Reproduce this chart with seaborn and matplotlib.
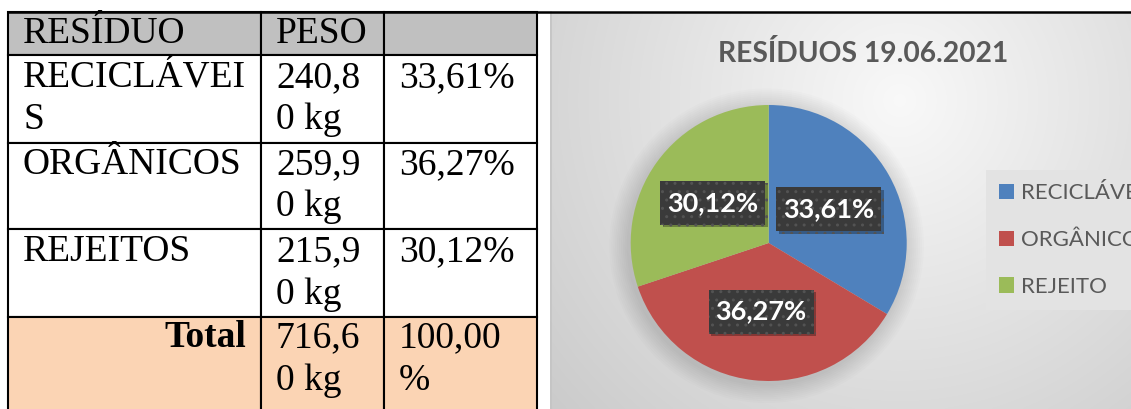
import numpy as np
import matplotlib
matplotlib.use("Agg")
import matplotlib.pyplot as plt
import seaborn as sns
from matplotlib.table import Table
from matplotlib.patches import Ellipse, Rectangle
from matplotlib import patheffects as pe

# ---- data -------------------------------------------------------------
cabecalho = ["RESÍDUO", "PESO", ""]
residuos = ["RECICLÁVEIS", "ORGÂNICOS", "REJEITOS"]
pesos_kg = [240.80, 259.90, 215.90]
percentuais = [33.61, 36.27, 30.12]
total_kg = 716.60
total_pct = 100.00
legenda = ["RECICLÁVEIS", "ORGÂNICOS", "REJEITO"]
titulo = "RESÍDUOS 19.06.2021"

# ---- style ------------------------------------------------------------
sns.set_theme(style="white")
plt.rcParams["font.family"] = ["Lato", "DejaVu Sans"]
cores = ["#4f81bd", "#c0504d", "#9bbb59"]
cinza_texto = "#595959"

W, H = 1131, 409
fig = plt.figure(figsize=(W / 100, H / 100), dpi=100)
fig.patch.set_facecolor("white")


def fbox(x0, y0, x1, y1):
    """pixel box (origin top-left) -> figure fraction [l, b, w, h]"""
    return [x0 / W, 1 - y1 / H, (x1 - x0) / W, (y1 - y0) / H]


def br_num(v, casas=2):
    return f"{v:.{casas}f}".replace(".", ",")


def quebra(txt, n, linhas=2):
    """wrap text in fixed-width chunks, padded to a fixed number of lines"""
    partes = [txt[i:i + n].strip() for i in range(0, len(txt), n)]
    while len(partes) < linhas:
        partes.append(" ")
    return "\n".join(partes)


# ---- chart background (soft radial gradient) ---------------------------
ax_bg = fig.add_axes(fbox(550, 12, W, H))
xx, yy = np.meshgrid(np.linspace(550, W, 300), np.linspace(12, H, 200))
d = np.hypot(xx - 900, yy - 100)
lum = np.clip(0.975 - 0.2 * d / 520, 0, 1)
ax_bg.imshow(np.dstack([lum, lum, lum]), aspect="auto", interpolation="bilinear")
ax_bg.set_axis_off()
fig.add_artist(plt.Line2D([550.5 / W, 550.5 / W], [0, 1 - 12 / H],
                          color="#c4c4c4", lw=1.2))

# ---- table ------------------------------------------------------------
ax_t = fig.add_axes([0, 0, 1, 1], facecolor="none")
ax_t.set_axis_off()

col_px = [253, 123, 153]
row_px = [43, 87.7, 86.3, 88, 128]   # last row runs past the page edge
x0, y_top = 8, 12
tab_w, tab_h = sum(col_px), sum(row_px)
tbl = Table(ax_t, bbox=[x0 / W, (H - (y_top + tab_h)) / H, tab_w / W, tab_h / H])

linhas = [cabecalho]
for nome, peso, pct in zip(residuos, pesos_kg, percentuais):
    linhas.append([quebra(nome, 10), quebra(f"{br_num(peso)} kg", 5),
                   quebra(f"{br_num(pct)}%", 6)])
linhas.append([quebra("Total", 10, 3), quebra(f"{br_num(total_kg)} kg", 5, 3),
               quebra(f"{br_num(total_pct)}%", 6, 3)])

for r, linha in enumerate(linhas):
    for c, txt in enumerate(linha):
        if r == 0:
            fc = "#c0c0c0"
        elif r == len(linhas) - 1:
            fc = "#fbd4b4"
        else:
            fc = "white"
        loc = "right" if (r == len(linhas) - 1 and c == 0) else "left"
        cell = tbl.add_cell(r, c, width=col_px[c] / tab_w, height=row_px[r] / tab_h,
                            text=txt, loc=loc, facecolor=fc, edgecolor="black")
        cell.PAD = 15 / col_px[c]
        cell.set_linewidth(1.5)
        t = cell.get_text()
        t.set_fontfamily("Liberation Serif")
        t.set_fontsize(27)
        t.set_color("black")
        t.set_linespacing(1.31)
        if r == len(linhas) - 1 and c == 0:
            t.set_fontweight("bold")
tbl.auto_set_font_size(False)
ax_t.add_table(tbl)

# rule along the top of the page
fig.add_artist(plt.Line2D([x0 / W, 1], [1 - 11.5 / H, 1 - 11.5 / H],
                          color="black", lw=1.8))

# ---- pie --------------------------------------------------------------
pie_l, pie_t, pie_r, pie_b = 630.7, 105, 906.7, 381
ax_p = fig.add_axes(fbox(pie_l, pie_t, pie_r, pie_b), facecolor="none")
for k in range(10):
    s = 1.0 + 0.014 * (k + 1)
    ax_p.add_patch(Ellipse((-0.015, -0.02), 2 * s, 2 * s, facecolor="black",
                           alpha=0.012, lw=0, clip_on=False, zorder=0))

wedges, _, autotexts = ax_p.pie(
    percentuais, colors=cores, startangle=90, counterclock=False,
    autopct=lambda p: f"{br_num(p)}%", pctdistance=0.5,
    wedgeprops=dict(linewidth=0), radius=1.0,
)
ax_p.set_aspect("auto")
ax_p.set_xlim(-1, 1)
ax_p.set_ylim(-1, 1)
ax_p.set_axis_off()

# dark label plates (105 x 44 px) behind each percentage
bw = 105 / (pie_r - pie_l) * 2
bh = 44 / (pie_b - pie_t) * 2
for t in autotexts:
    x, y = t.get_position()
    plate = Rectangle((x - bw / 2, y - bh / 2), bw, bh, facecolor="#3a3a3a",
                      edgecolor="#535353", hatch="..", linewidth=0, zorder=3)
    plate.set_path_effects(
        [pe.SimplePatchShadow(offset=(2, -2), shadow_rgbFace="black", alpha=0.3),
         pe.Normal()])
    ax_p.add_patch(plate)
    t.set_color("white")
    t.set_fontweight("bold")
    t.set_fontsize(19.5)
    t.set_zorder(4)

# ---- title & legend ---------------------------------------------------
fig.text(863 / W, 1 - 54 / H, titulo, ha="center", va="center",
         fontsize=20.3, fontweight="bold", color=cinza_texto)

leg = fig.legend(wedges, legenda, loc="upper left",
                 bbox_to_anchor=(986 / W, 1 - 170 / H), bbox_transform=fig.transFigure,
                 fontsize=16, frameon=True, fancybox=False, framealpha=1,
                 facecolor="#e3e3e3", edgecolor="none", borderaxespad=0,
                 borderpad=0.6, handlelength=0.68, handleheight=0.68,
                 handletextpad=0.3, labelspacing=1.2, labelcolor=cinza_texto)

fig.savefig("out.png", dpi=100)
